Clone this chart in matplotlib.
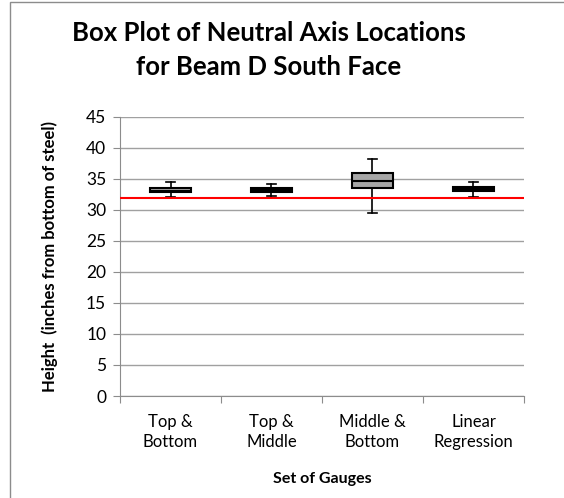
import matplotlib.pyplot as plt
from matplotlib.patches import Rectangle

# Box statistics (inches from bottom of steel)
categories = ["Top &\nBottom", "Top &\nMiddle", "Middle &\nBottom", "Linear\nRegression"]
whisker_low = [32.0, 32.2, 29.5, 32.0]
q1 = [32.8, 32.9, 33.45, 33.05]
median = [33.1, 33.2, 34.65, 33.3]
q3 = [33.45, 33.5, 36.0, 33.6]
whisker_high = [34.4, 34.2, 38.2, 34.5]
neutral_axis = 31.85

plt.rcParams['font.family'] = ['Lato', 'DejaVu Sans']

fig = plt.figure(figsize=(5.64, 4.98), dpi=100)
ax = fig.add_axes([0.2128, 0.2048, 0.929 - 0.2128, 0.7657 - 0.2048])

# outer chart frame (cropped at right and bottom)
fig.patches.append(Rectangle((10 / 564, -0.1), 1.2, 1.1 - 2.5 / 498,
                             transform=fig.transFigure, fill=False,
                             edgecolor='#8c8c8c', linewidth=1.0))

stats = []
for i in range(len(categories)):
    stats.append(dict(whislo=whisker_low[i], q1=q1[i], med=median[i],
                      q3=q3[i], whishi=whisker_high[i], fliers=[]))

positions = [i + 0.5 for i in range(len(categories))]
ax.bxp(stats, positions=positions, widths=0.4, patch_artist=True,
       showfliers=False, capwidths=0.08,
       boxprops=dict(facecolor='#a6a6a6', edgecolor='black', linewidth=1.5),
       medianprops=dict(color='black', linewidth=1.5),
       whiskerprops=dict(color='black', linewidth=1.2),
       capprops=dict(color='black', linewidth=1.2), zorder=3)

ax.axhline(neutral_axis, color='#ff0000', linewidth=1.5, zorder=4)

ax.set_xlim(0, len(categories))
ax.set_ylim(0, 45)
ax.set_yticks(range(0, 46, 5))
ax.yaxis.grid(True, color='#a0a0a0', linewidth=1.0)
ax.set_axisbelow(True)

ax.set_xticks(range(0, len(categories) + 1))
ax.set_xticklabels([])
ax.set_xticks(positions, minor=True)
ax.set_xticklabels(categories, minor=True, fontsize=12, linespacing=1.3)
ax.tick_params(axis='x', which='minor', length=0, pad=13)
ax.tick_params(axis='x', which='major', length=5, color='#8c8c8c', direction='out')
ax.tick_params(axis='y', length=5, color='#8c8c8c', labelsize=12.5, pad=5)

for s in ['top', 'right']:
    ax.spines[s].set_visible(False)
for s in ['left', 'bottom']:
    ax.spines[s].set_color('#8c8c8c')

ax.set_ylabel("Height  (inches from bottom of steel)", fontsize=12, fontweight='bold', labelpad=20)
ax.set_xlabel("Set of Gauges", fontsize=11.5, fontweight='bold', labelpad=16)
fig.text(0.476, 0.9, "Box Plot of Neutral Axis Locations\nfor Beam D South Face",
         ha='center', va='center', fontsize=18.5, fontweight='bold', linespacing=1.5)

fig.savefig("out.png", dpi=100)
